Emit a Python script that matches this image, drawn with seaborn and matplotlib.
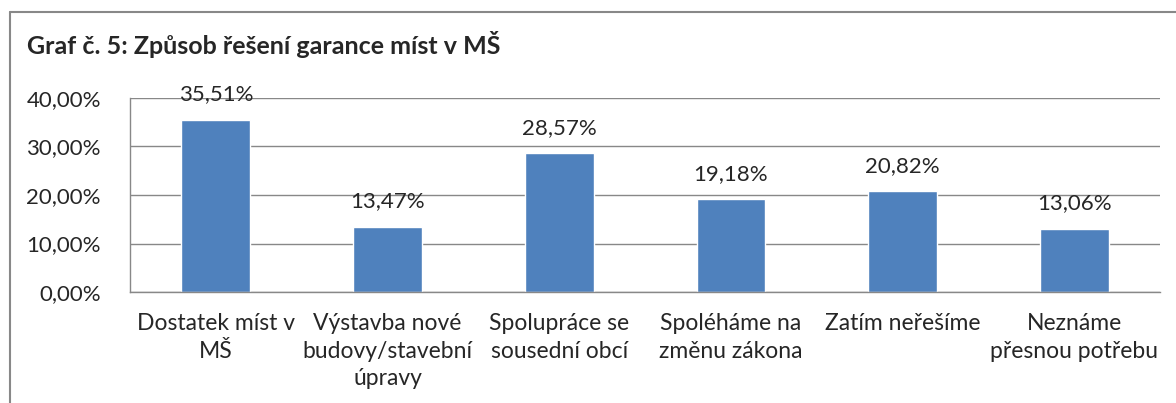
import matplotlib
matplotlib.use("Agg")
import matplotlib.pyplot as plt
import seaborn as sns
import pandas as pd
from matplotlib.lines import Line2D
from matplotlib.ticker import FuncFormatter

categories = ["Dostatek míst v\nMŠ", "Výstavba nové\nbudovy/stavební\núpravy",
              "Spolupráce se\nsousední obcí", "Spoléháme na\nzměnu zákona",
              "Zatím neřešíme", "Neznáme\npřesnou potřebu"]
values = [35.51, 13.47, 28.57, 19.18, 20.82, 13.06]
title = "Graf č. 5: Způsob řešení garance míst v MŠ"

sns.set_theme(style="white")
plt.rcParams['font.family'] = ['Lato', 'DejaVu Sans']

df = pd.DataFrame({"cat": categories, "val": values})

fig = plt.figure(figsize=(11.76, 4.03), dpi=100)
ax = fig.add_axes([130/1176, 1-292/403, (1160-130)/1176, (292-98)/403])

sns.barplot(data=df, x="cat", y="val", color="#4F81BD", saturation=1, width=0.4, ax=ax)

ax.set_ylim(0, 40)
ax.set_yticks([0, 10, 20, 30, 40])
ax.yaxis.set_major_formatter(FuncFormatter(lambda v, p: f"{v:.2f}".replace(".", ",") + "%"))
ax.grid(axis="y", color="#888888", linewidth=1)
ax.set_axisbelow(True)
ax.set_xlabel("")
ax.set_ylabel("")

for s in ["top", "right"]:
    ax.spines[s].set_visible(False)
for s in ["left", "bottom"]:
    ax.spines[s].set_color("#888888")
    ax.spines[s].set_linewidth(1)

ax.set_xlim(-0.5, len(categories) - 0.5)
ax.set_xticks(range(len(categories)))
ax.set_xticklabels(categories, fontsize=16.5, linespacing=1.4, va="top")
ax.tick_params(axis="x", length=0, pad=15)
ax.set_xticks([i - 0.5 for i in range(len(categories) + 1)], minor=True)
ax.tick_params(axis="x", which="minor", length=5, color="#888888", width=1, direction="out")
ax.tick_params(axis="y", length=5, color="#888888", width=1, direction="out", labelsize=16, pad=16)

for c in ax.containers:
    ax.bar_label(c, labels=[f"{v:.2f}".replace(".", ",") + "%" for v in values],
                 padding=11, fontsize=16)

fig.text(27/1176, 1-45/403, title, fontsize=18, fontweight="bold", va="center", ha="left")

fig.add_artist(Line2D([10/1176, 10/1176], [0, 1-12/403], transform=fig.transFigure, color="#888888", lw=1.5))
fig.add_artist(Line2D([10/1176, 1], [1-12/403, 1-12/403], transform=fig.transFigure, color="#888888", lw=1.5))

fig.savefig("out.png", dpi=100)
